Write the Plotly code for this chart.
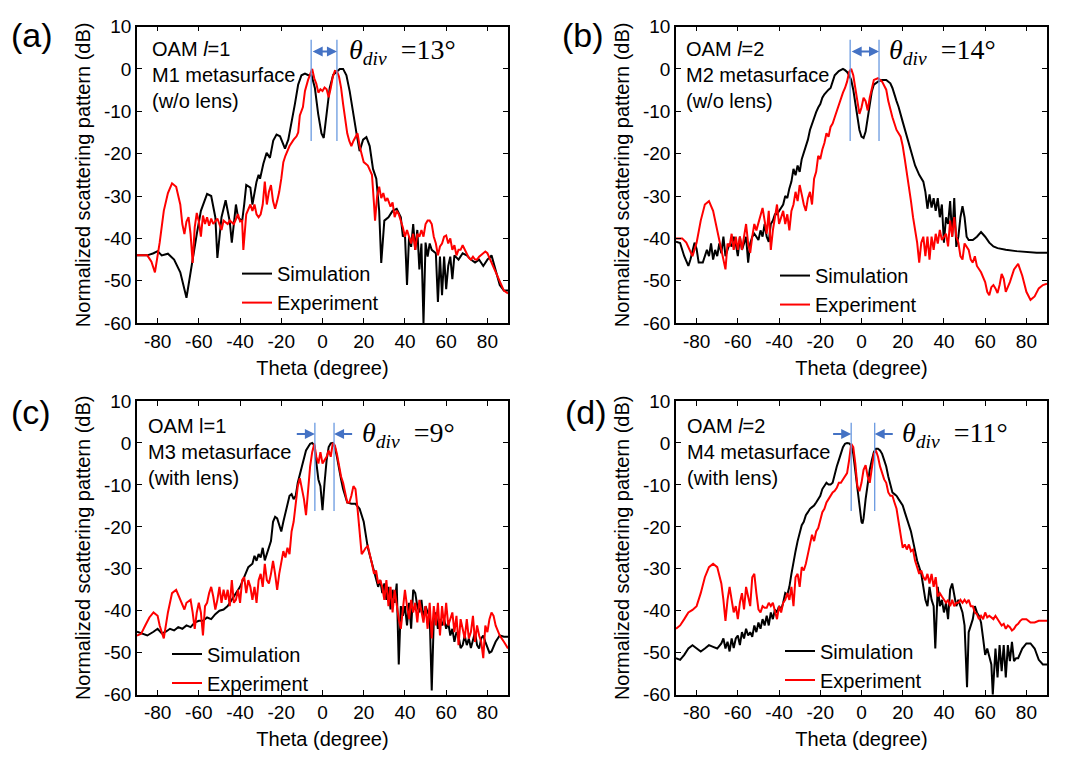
import plotly.graph_objects as go

# ---------------- data (theta in degree, normalized pattern in dB) ----------------
SIM_A = [(-90,-44),(-85,-44),(-82,-43.5),(-80,-43),(-78,-44),(-75,-43.6),(-72,-45),(-69,-48),(-66,-54),(-64,-48),
         (-63,-44),(-61,-39),(-59,-33.5),(-56,-29.5),(-54,-30),(-52,-35),(-51,-44.6),(-49,-35),(-47,-31),(-45,-36),
         (-44,-41),(-42,-32),(-41,-35),(-39,-36),(-38,-32),(-37,-27.4),(-35,-28),(-34,-32),(-32,-26.6),(-31,-25),
         (-30.3,-25.9),(-28.7,-22.4),(-27.1,-19.8),(-25.5,-21),(-23.9,-16.9),(-22.3,-15.5),(-20.6,-15.9),(-19.4,-17.3),
         (-18.2,-18.8),(-16.6,-16.7),(-15,-12.9),(-13.4,-8.3),(-11.8,-3.7),(-10.2,-1.5),(-8.5,-1.1),(-6.9,-1.5),
         (-5.3,-1.5),(-3.7,-4.5),(-2.1,-10.6),(-0.5,-15.2),(0.6,-16.3),(1.9,-11.3),(3.5,-4.5),(5.2,-1.4),(6.8,-0.6),
         (8.4,0),(10,0),(11.6,-1.5),(13.2,-5.3),(14.8,-10.6),(16.5,-15.2),(18,-19.4),(19.7,-16.7),(21.3,-16.1),
         (22.9,-18.2),(24.5,-23.6),(26.1,-25.9),(27.5,-33.5),(28.5,-45.8),(30,-35.8),(32,-35),(34,-33.5),(36,-33),
         (38,-35),(39,-39.6),(40,-39),(41,-51),(42,-39.6),(43,-42),(44,-36.6),(45,-42.7),(46,-38),(47,-47.3),(48,-41.2),
         (49,-60),(50,-41),(51,-44.3),(52,-41.2),(53,-42.7),(55,-43.5),(56,-55),(57,-44.3),(58,-53.4),(59,-44.3),
         (60,-52),(61,-46.5),(62,-44.3),(63,-49.6),(64,-44),(66,-45),(67,-44.3),(68,-43.5),(70,-44),(72,-45),(74,-45.7),
         (76,-45),(78,-46.5),(80,-45),(82,-44),(84,-47.3),(86,-51),(88,-52.3),(90,-52.3)]

EXP_A = [(-90,-44),(-85,-44),(-83,-45.5),(-81.3,-48),(-79,-41),(-77,-33.5),(-75,-29.3),(-73,-27),(-71,-27.8),(-69,-32),
         (-68,-36.6),(-67,-39),(-66,-36),(-65,-35),(-64,-39),(-63,-45.8),(-62,-37.4),(-61,-34),(-60,-36),(-59,-39.6),
         (-58,-34.6),(-57,-36.6),(-56,-35),(-55,-37),(-54,-35.3),(-53,-36.6),(-51,-35.3),(-49,-38),(-48,-35.8),(-46,-36.6),
         (-45,-35.8),(-43,-36.6),(-41,-34.3),(-40,-36),(-39,-35.8),(-38.4,-42.7),(-37,-34.3),(-35,-32),(-34,-33.5),
         (-33,-32),(-32,-34.3),(-31,-35),(-30,-34.3),(-29,-32),(-28,-26.6),(-27,-32),(-26,-29),(-25,-27.4),(-24,-31.2),
         (-23,-33),(-22,-31.2),(-21,-29),(-20,-25.9),(-19,-22),(-18,-20.5),(-16,-18.2),(-14,-16.7),(-12.6,-15.9),
         (-11.8,-15),(-11,-11),(-9.5,-9),(-8.5,-5.2),(-7,-2.6),(-6,-1.2),(-5,0),(-4,-2.2),(-3,-3.5),(-2,-5.6),(-1,-4.8),
         (0,-5.2),(1,-4.4),(2,-4.8),(3,-6.7),(4,-4.5),(5,-1.8),(6,-0.5),(7,-0.6),(8,-1.8),(9,-4.4),(10,-8.3),(11,-12.1),
         (12,-15.2),(13,-17),(14,-18.2),(15,-17),(16,-15.9),(17,-15.2),(18,-18.2),(19,-20.5),(20,-22),(22,-22.8),
         (24,-25),(25,-32),(25.5,-35.8),(26.5,-30),(27.5,-27.8),(28.5,-30.5),(29.5,-29.3),(30.5,-31.2),(31.5,-30.5),
         (33,-32.5),(34,-31.5),(35,-35),(36,-33.5),(37,-34.3),(38,-35.8),(39,-37.4),(40,-39.6),(41,-38),(42,-39.6),
         (43,-41.2),(44,-38.9),(45,-42.7),(46,-38.9),(47,-39.6),(48,-38),(49,-39.6),(50,-36.6),(51,-35.8),(52,-35.8),
         (53,-36.6),(54,-39.6),(55,-41.2),(56,-44),(57,-41.9),(58,-41.2),(59,-39.6),(60,-39.3),(61,-41.2),(62,-40),
         (63,-42.7),(64,-41.6),(65,-44),(66,-42.7),(67,-42.7),(68,-41.6),(69,-42.7),(70,-43.5),(71,-44.6),(72,-45),
         (73,-44.3),(74,-45),(75,-45),(76,-44.3),(77,-43.9),(78,-43.5),(79,-43.1),(80,-43.5),(81,-44.6),(82,-45.8),
         (84,-48),(86,-50.4),(88,-52.3),(90,-53)]

SIM_B = [(-90,-40.8),(-88,-41.1),(-86,-44.2),(-84,-46.5),(-83,-45),(-81,-41),(-80,-42.5),(-79,-45.7),(-77,-45.7),
         (-75,-42.7),(-74,-44.2),(-73,-41.2),(-72,-45),(-71,-42.7),(-70,-44.2),(-69,-41.2),(-68,-43.5),(-67,-39.6),
         (-66,-44.2),(-65,-42.7),(-64,-41.2),(-63,-41.9),(-62,-39.6),(-61,-41.2),(-60,-44.2),(-59,-39.6),(-58,-42.7),
         (-57,-41.2),(-56,-39.6),(-55,-45.7),(-54,-41.2),(-53,-39.6),(-52,-38.9),(-51,-39.6),(-50,-40.4),(-49,-38.1),
         (-48,-39.6),(-47,-36.6),(-46,-39.6),(-45,-40.8),(-44,-36.6),(-43,-35.8),(-42,-34.3),(-41,-34.3),(-40,-33.5),
         (-39,-32.7),(-38,-32),(-37,-30),(-36,-30.5),(-35,-28.2),(-34,-26.6),(-33,-23.6),(-32,-25.1),(-31,-22.8),
         (-30,-24.3),(-29,-21.3),(-28,-19.8),(-27,-18.2),(-26,-16.7),(-25,-14.4),(-24,-12.9),(-23,-11.4),(-22,-10.2),
         (-21,-9.1),(-20,-8.3),(-19,-6.8),(-18,-6),(-16,-4.9),(-15,-4.5),(-14,-3),(-13,-1.5),(-11,-0.5),(-10,-0.2),
         (-9,0),(-8,-0.3),(-7,-0.7),(-6,-1.5),(-5,-2.6),(-4,-4.9),(-3,-8.3),(-2,-11.4),(-1,-14.4),(0,-16),(1,-16.3),
         (2,-14.8),(3,-11.4),(4,-7.6),(5,-5.3),(6,-3.7),(8,-3),(10,-2.6),(12,-2.6),(14,-3.4),(15,-4.5),(17,-7.6),(18,-9),
         (20,-12.5),(22,-16),(24,-19.8),(26,-22.8),(28,-25),(29,-25.9),(30,-26.6),(31,-29),(32,-33),(33,-29.6),(34,-32.7),
         (35,-30.5),(36,-33.5),(37,-30.5),(38,-35),(39,-32),(40,-41),(41,-35),(42,-36.6),(43,-31.2),(44,-39.6),(45,-30.5),
         (46,-42),(47,-39.6),(48,-35),(49,-32.4),(50,-35),(51,-39.6),(52,-40.4),(54,-40.4),(56,-39.6),(58,-38.5),(60,-39.6),
         (62,-41),(64,-41.9),(66,-42.3),(70,-42.7),(75,-43),(80,-43.2),(85,-43.4),(90,-43.4)]

EXP_B = [(-90,-40),(-87,-40),(-85,-41),(-82,-44.2),(-80,-41),(-78,-35.8),(-76,-32),(-74,-31.2),(-72,-33.5),(-70,-38),
         (-68,-42),(-66,-47.3),(-65,-41.2),(-64,-41.9),(-63,-38.9),(-62,-42.7),(-61,-39.6),(-60,-42.7),(-59,-39.6),
         (-58,-42.7),(-57,-39.6),(-56,-36.6),(-55,-41.2),(-54,-43.4),(-53,-39.6),(-52,-36.6),(-51,-38.1),(-50,-36.2),
         (-49,-35),(-48,-32.8),(-47,-35.8),(-46,-38.9),(-45,-33.5),(-44,-42.7),(-43,-38.1),(-42,-35),(-41,-32),(-40,-36.6),
         (-39,-35),(-38,-33.5),(-37,-36.6),(-36,-34.3),(-35,-38.1),(-34,-33.5),(-33,-32),(-32,-29),(-31,-31.2),
         (-30,-27.4),(-29,-29.6),(-28,-32),(-27,-33.5),(-26,-30.5),(-25,-29),(-24,-32),(-23,-25.9),(-22,-24.3),
         (-21,-20.5),(-20,-21.3),(-19,-19),(-18,-17.5),(-17,-15.2),(-16,-16),(-15,-13.7),(-14,-12.9),(-13,-11.4),
         (-12,-9.9),(-11,-8.3),(-10,-6.8),(-9,-5.6),(-8,-4.5),(-7,-3),(-6,-0.7),(-5,0),(-4,-1.5),(-3,-4.5),(-2,-8.3),
         (-1,-10.6),(0,-9.1),(1,-6.8),(2,-7.6),(3,-9.8),(4,-6.8),(5,-4.5),(6,-2.6),(8,-2.2),(10,-3),(12,-4.9),(13,-7.6),
         (15,-11.4),(17,-14.4),(19,-16),(20,-18.2),(21,-21.3),(22,-24.3),(23,-27.4),(24,-31.2),(25,-35),(26,-38),
         (27,-41),(28,-45.7),(29,-41),(30,-39.6),(31,-44.2),(32,-39.6),(33,-45),(34,-39.6),(35,-42.7),(36,-38.9),
         (37,-41.2),(38,-38),(39,-40.4),(40,-39.6),(41,-38.9),(42,-41.9),(43,-35.8),(44,-39.6),(45,-35),(46,-39.6),
         (47,-41),(48,-44.2),(49,-45),(50,-41.2),(51,-42),(52,-42.7),(53,-45),(54,-45.7),(55,-44.2),(56,-46.5),
         (58,-48),(60,-50.3),(61,-52.6),(62,-53.4),(63,-51.5),(64,-51),(65,-51.8),(66,-52.9),(67,-51),(68,-48.4),
         (69,-49.5),(70,-52.6),(72,-50.3),(74,-47.3),(76,-46),(78,-48.8),(80,-52.6),(82,-54.5),(84,-53.7),(86,-51.8),
         (88,-51),(90,-50.7)]

SIM_C = [(-90,-45),(-85,-45.9),(-82,-45),(-80,-44.3),(-78,-45.4),(-76,-45),(-74,-44.3),(-72,-44.7),(-70,-43.9),
         (-68,-44.3),(-66,-43.5),(-64,-43.9),(-62,-42.8),(-60,-42.4),(-58,-42.4),(-56,-41.6),(-54,-42),(-52,-40.8),
         (-50,-40),(-48,-39.7),(-46,-38.9),(-44,-37.4),(-42,-35.8),(-40,-34.3),(-38,-32),(-36,-29.6),(-34,-28.8),
         (-33,-26.9),(-32,-28.1),(-31,-26.5),(-30,-27.3),(-29,-25),(-28,-28),(-27,-26.5),(-25,-23.4),(-24,-18.8),
         (-23,-17.6),(-22,-18),(-21,-19.9),(-20,-21.1),(-19,-18.8),(-18,-16.5),(-17,-14.2),(-16,-12.6),(-15,-12.2),
         (-14,-13.4),(-13,-12.6),(-12,-9.5),(-10,-5.6),(-8,-1.8),(-6,-0.2),(-5,0),(-4,-0.6),(-3,-4.1),(-2,-8.7),
         (-1,-10.3),(0,-16),(1,-9.5),(2,-4.1),(3,-1),(4,-0.1),(5,0),(6,-1),(7,-3.3),(8,-6.4),(9,-8.7),(10,-11),
         (11,-12.6),(12,-14.2),(14,-14.5),(16,-14.5),(18,-15.7),(20,-18.8),(22,-25),(23,-26.9),(24,-28.8),(25,-30.4),
         (26,-31.9),(27,-34.3),(28,-32.7),(29,-35.8),(30,-33.5),(31,-37.4),(32,-34.3),(33,-39.7),(34,-35),(35,-38.1),
         (36,-33.5),(37,-52.8),(38,-38.9),(39,-41.2),(40,-38.9),(41,-43.5),(42,-38.1),(43,-44.3),(44,-35),(45,-35.8),
         (46,-38.9),(47,-40.4),(48,-37.4),(49,-42),(50,-38.9),(51,-40.4),(52,-41.2),(53,-59),(54,-42),(55,-40.4),
         (56,-44.3),(57,-42),(58,-43.5),(59,-42),(60,-44.3),(61,-42.8),(62,-45.9),(63,-44.3),(64,-47.4),(65,-45.1),
         (66,-45.9),(67,-48.9),(68,-48.2),(69,-45.9),(70,-48.2),(71,-46.6),(72,-48.9),(73,-46.6),(74,-45.1),(75,-48.2),
         (76,-49),(77,-46.6),(78,-45.9),(79,-47.4),(80,-48.9),(81,-50),(82,-49.7),(84,-47.4),(86,-45.9),(88,-46.2),
         (90,-46.2)]

EXP_C = [(-90,-45.9),(-88,-45.5),(-86,-43.5),(-84,-41.6),(-82,-40.4),(-80,-41.2),(-79,-43.5),(-77,-46.6),(-75,-40.4),
         (-73,-35.8),(-71,-35),(-69,-37.4),(-67,-39.7),(-66,-38.1),(-64,-37.4),(-63,-40.4),(-62,-44.3),(-61,-40.4),
         (-60,-38.1),(-59,-40.4),(-58,-45.9),(-57,-38.9),(-56,-38.1),(-55,-35.8),(-54,-34.3),(-53,-36.6),(-52,-39.7),
         (-51,-37.4),(-50,-34.3),(-49,-38.1),(-48,-35),(-47,-37.4),(-46,-35),(-45,-38.9),(-44,-32.7),(-43,-38.1),
         (-42,-37.4),(-41,-35),(-40,-38.1),(-39,-32.7),(-38,-32),(-37,-35.8),(-36,-32.7),(-35,-34.3),(-34,-37.4),
         (-33,-34.3),(-32,-38.1),(-31,-32.7),(-30,-31.2),(-29,-34.3),(-28,-28.8),(-27,-32.7),(-26,-33.5),(-25,-31.2),
         (-24,-28.1),(-23,-31.2),(-22,-35),(-21,-31.2),(-20,-28.1),(-19,-25.8),(-18,-27.3),(-17,-25),(-16,-26.5),
         (-15,-21.1),(-14,-18.8),(-13,-14.2),(-12,-10.3),(-11,-8.4),(-10,-11),(-9,-13.4),(-8,-17.2),(-7,-11),(-6,-5.6),
         (-5,-2.2),(-4,-0.2),(-3,-3.3),(-2,-4.9),(-1,-2.2),(0,-4.9),(1,-4.1),(2,-3.3),(3,-1.8),(4,-3.3),(5,0),(6,-0.6),
         (7,-2.6),(8,-5.6),(9,-8),(10,-9.5),(11,-11.8),(12,-14.2),(13,-14.2),(14,-12.6),(15,-10.3),(16,-11),(17,-15.7),
         (18,-20.3),(19,-26.5),(20,-25.8),(21,-25),(22,-24.6),(23,-26.5),(24,-28.8),(25,-31.2),(26,-30.4),(27,-33.5),
         (28,-32.7),(29,-34.3),(30,-37.4),(31,-32.7),(32,-38.9),(33,-34.3),(34,-40.4),(35,-35),(36,-38.9),(37,-42),
         (38,-44.3),(39,-38.9),(40,-35),(41,-38.9),(42,-42),(43,-37.4),(44,-40.4),(45,-38.1),(46,-42.8),(47,-37.4),
         (48,-40.4),(49,-42.8),(50,-38.9),(51,-44.3),(52,-38.1),(53,-46.6),(54,-38.9),(55,-43.5),(56,-38.1),(57,-45.9),
         (58,-38.9),(59,-43.5),(60,-38.1),(61,-43.5),(62,-42),(63,-40.4),(64,-45.1),(65,-41.2),(66,-48.2),(67,-42),
         (68,-44.3),(69,-46.6),(70,-42),(71,-46.6),(72,-45.1),(73,-41.2),(74,-47.4),(75,-43.5),(76,-45.9),(77,-47.4),
         (78,-51.3),(79,-43.5),(80,-45.1),(81,-42),(82,-40.4),(83,-41.2),(84,-43.5),(86,-45.9),(88,-47.4),(90,-49)]

SIM_D = [(-90,-51.3),(-88,-51.7),(-86,-50.5),(-84,-49),(-82,-48.2),(-80,-49),(-78,-49.7),(-76,-49),(-74,-48.2),
         (-72,-48.6),(-70,-49),(-68,-47.8),(-67,-46.6),(-66,-49),(-65,-47.4),(-64,-49.7),(-63,-46.6),(-62,-48.9),
         (-61,-46.6),(-60,-45.9),(-59,-48.2),(-58,-45.1),(-57,-46.6),(-56,-44.3),(-55,-45.9),(-54,-45.1),(-53,-46.2),
         (-52,-43.5),(-51,-45.1),(-50,-42.8),(-49,-44.3),(-48,-42),(-47,-43.5),(-46,-41.2),(-45,-43.5),(-44,-40.4),
         (-43,-42),(-42,-39.7),(-41,-40.4),(-40,-38.9),(-39,-39.7),(-38,-38.1),(-37,-35.8),(-36,-36.2),(-35,-34.3),
         (-34,-31.2),(-33,-28.1),(-32,-25.8),(-31,-23.4),(-30,-21.1),(-29,-19.6),(-28,-18.8),(-27,-17.2),(-26,-16.5),
         (-25,-15.7),(-24,-15.3),(-23,-14.9),(-22,-14.2),(-21,-13.4),(-20,-12.6),(-19,-11),(-18,-10.3),(-17,-9.5),
         (-16,-9.9),(-15,-9.9),(-14,-9.5),(-13,-7.2),(-12,-5.6),(-11,-4.1),(-10,-2.6),(-9,-1),(-8,-0.2),(-7,0),
         (-6,-0.1),(-5,-0.6),(-4,-2.6),(-3,-6.4),(-2,-10.3),(-1,-14.2),(0,-18.8),(0.5,-19.2),(1,-18),(2,-13.4),
         (3,-9.5),(4,-6.4),(5,-4.1),(6,-2.2),(7,-1.4),(8,-1.4),(9,-1.8),(10,-2.6),(11,-4.1),(12,-5.6),(13,-8),
         (14,-10.3),(15,-11.8),(16,-12.2),(17,-12.6),(18,-13.4),(19,-14.2),(20,-14.9),(21,-16.5),(22,-18),(23,-19.6),
         (24,-21.1),(25,-23.4),(26,-25.8),(27,-28.1),(28,-29.6),(29,-31.2),(30,-34.3),(31,-37.4),(32,-38.9),(33,-34.3),
         (34,-37.4),(35,-38.9),(35.8,-49),(37,-34.3),(38,-38.9),(39,-37.4),(40,-40.4),(41,-38.1),(42,-42),(43,-35),
         (44,-33.5),(45,-35.8),(46,-38.9),(47,-37.4),(48,-38.9),(49,-40.4),(50,-43.5),(51.2,-58.2),(52,-45.1),
         (53,-43.5),(54,-42),(55,-38.9),(56,-40.4),(57,-41.2),(58,-42.8),(59,-46.6),(60,-50.5),(61,-49),(62,-51.3),
         (63,-52.8),(63.7,-60),(65,-49),(66,-55.9),(67,-48.2),(68,-54.4),(69,-48.2),(70,-55.9),(71,-48.2),(72,-52),
         (73,-47.4),(74,-52),(75,-51.3),(76,-51.3),(78,-49),(80,-47.8),(82,-47.8),(84,-49),(86,-51.7),(88,-52.8),
         (90,-52.8)]

EXP_D = [(-90,-44.3),(-88,-43.5),(-86,-42),(-84,-40.4),(-82,-39.8),(-80,-38.9),(-78,-35.8),(-76,-32),(-74,-29.6),
         (-72,-28.8),(-70,-29.6),(-68,-33.5),(-67,-37.4),(-66,-42.4),(-65,-37.4),(-64,-34.3),(-63,-37.4),(-62,-40.4),
         (-61,-38.9),(-60,-42),(-59,-38.1),(-58,-35.8),(-57,-39.7),(-56,-34.3),(-55,-36.6),(-54,-38.9),(-53,-32),
         (-52,-31.2),(-51,-35.8),(-50,-39.7),(-49,-40.4),(-48,-38.9),(-47,-39.3),(-46,-39.3),(-45,-38.1),(-44,-38.9),
         (-43,-38.1),(-42,-40.4),(-41,-42),(-40,-38.9),(-39,-40.4),(-38,-38.1),(-37,-37.4),(-36,-35.8),(-35,-37.4),
         (-34,-34.3),(-33,-38.9),(-32,-32),(-31,-31.2),(-30,-34.3),(-29,-29.6),(-28,-30.4),(-27,-28.8),(-26,-26.5),
         (-25,-24.2),(-24,-21.9),(-23,-23.4),(-22,-21.1),(-21,-20.3),(-20,-18),(-19,-16.5),(-18,-15.7),(-17,-14.2),
         (-16,-13.4),(-15,-12.6),(-14,-11.8),(-13,-11.4),(-12,-10.7),(-11,-9.5),(-10,-9.5),(-9,-8.7),(-8,-8),(-7,-7.2),
         (-6,-4.1),(-5,-0.2),(-4,-1),(-3,-4.9),(-2,-10.3),(-1,-11.5),(0,-9.5),(1,-6.4),(2,-5.3),(3,-8),(4,-9.5),
         (5,-6.4),(6,-2.6),(7,-1.8),(8,-3.3),(9,-5.6),(10,-7.2),(11,-8.7),(12,-9.5),(13,-11.8),(14,-12.6),(15,-12.6),
         (16,-14.2),(17,-15.7),(18,-18.8),(19,-21.9),(20,-25),(21,-24.2),(22,-25.4),(23,-24.2),(24,-25.8),(25,-25.4),
         (26,-28.1),(27,-29.6),(28,-31.2),(29,-30.4),(30,-32),(31,-32.7),(32,-31.2),(33,-33.5),(34,-31.2),(35,-34.3),
         (36,-32),(37,-36.6),(38,-35.8),(39,-36.6),(40,-37.4),(41,-38.1),(42,-37.4),(43,-38.9),(44,-37.4),(45,-38.9),
         (46,-38.1),(47,-38.1),(48,-37.4),(49,-38.1),(50,-37.4),(51,-38.1),(52,-37.4),(53,-38.9),(54,-38.9),(55,-40.4),
         (56,-40.8),(57,-42),(58,-41.2),(59,-42),(60,-40.4),(61,-41.6),(62,-41.2),(63,-41.6),(64,-42),(65,-41.2),
         (66,-42),(67,-42.8),(68,-43.5),(69,-43.1),(70,-44.3),(71,-43.5),(72,-43.9),(73,-44.7),(74,-44.3),(75,-43.5),
         (76,-43.1),(77,-42.4),(78,-42),(80,-42),(82,-42.8),(84,-42.8),(86,-42.4),(88,-42.4),(90,-42.4)]

# panel texts
PANEL_LABELS = ["(a)", "(b)", "(c)", "(d)"]
INFO_TEXTS = ["OAM <i>l</i>=1<br>M1 metasurface<br>(w/o lens)",
              "OAM <i>l</i>=2<br>M2 metasurface<br>(w/o lens)",
              "OAM l=1<br>M3 metasurface<br>(with lens)",
              "OAM <i>l</i>=2<br>M4 metasurface<br>(with lens)"]
DIV_ANGLES = [13, 14, 9, 11]
# positions of the two blue marker lines (degree) for each panel
DIV_LINES = [(-5.5, 7.0), (-5.5, 8.5), (-3.7, 5.6), (-5.0, 6.4)]
X_TICKS = [-80, -60, -40, -20, 0, 20, 40, 60, 80]
Y_TICKS = [-60, -50, -40, -30, -20, -10, 0, 10]
X_TICK_TEXT = [str(v) for v in X_TICKS]
Y_TICK_TEXT = [str(v) for v in Y_TICKS]

SANS = "Liberation Sans, Arial, sans-serif"
SERIF = "Liberation Serif, Times New Roman, serif"

W, H = 1068, 765
# axes rectangles in pixels (left, right, top, bottom)
RECTS = [(137, 508, 17, 322), (676, 1047, 17, 322), (137, 508, 402, 704), (676, 1047, 402, 704)]

fig = go.Figure()
curves = [(SIM_A, EXP_A), (SIM_B, EXP_B), (SIM_C, EXP_C), (SIM_D, EXP_D)]
legend_names = ["legend", "legend2", "legend3", "legend4"]
for i, (sim, exp) in enumerate(curves):
    xa = "x" if i == 0 else f"x{i+1}"
    ya = "y" if i == 0 else f"y{i+1}"
    for data, name, col in [(sim, "Simulation", "#000000"), (exp, "Experiment", "#FF0000")]:
        th, db = zip(*data)
        fig.add_trace(go.Scatter(x=list(th), y=list(db), mode="lines", name=name,
                                 line=dict(color=col, width=2), xaxis=xa, yaxis=ya,
                                 legend=legend_names[i], showlegend=True))

axis_common = dict(showline=True, linecolor="black", linewidth=1.5, mirror="ticks", ticks="inside",
                   ticklen=5, tickwidth=1.2, tickcolor="black", showgrid=False, zeroline=False,
                   tickfont=dict(family=SANS, size=19, color="black"))

layout = dict(width=W, height=H, margin=dict(l=0, r=0, t=0, b=0), plot_bgcolor="white",
              paper_bgcolor="white", font=dict(family=SANS, color="black"))
for i, (l, r, t, b) in enumerate(RECTS):
    sfx = "" if i == 0 else str(i + 1)
    layout["xaxis" + sfx] = dict(axis_common, domain=[l / W, r / W], range=[-90, 90], tickvals=X_TICKS,
                                 ticktext=X_TICK_TEXT, anchor="y" + sfx,
                                 title=dict(text="Theta (degree)", font=dict(family=SANS, size=20), standoff=10))
    layout["yaxis" + sfx] = dict(axis_common, domain=[1 - b / H, 1 - t / H], range=[-60, 10], tickvals=Y_TICKS,
                                 ticktext=Y_TICK_TEXT, anchor="x" + sfx,
                                 title=dict(text="Normalized scattering pattern (dB)", font=dict(family=SANS, size=20),
                                            standoff=8))

LEG_POS = [(237, 251), (775, 253), (167, 642), (780, 639)]
for i, (lx, ly) in enumerate(LEG_POS):
    layout[legend_names[i]] = dict(x=lx / W, y=1 - ly / H, xanchor="left", yanchor="top",
                                   bgcolor="rgba(0,0,0,0)", borderwidth=0, tracegroupgap=0,
                                   font=dict(family=SANS, size=20, color="black"))
fig.update_layout(**layout)

LABEL_POS = [(9, 26), (560, 26), (9, 413), (563, 413)]
INFO_POS = [(-83.7, 7.7), (-86.1, 7.7), (-85.6, 7.1), (-85.6, 7.1)]
ARROW_Y = [4.1, 4.1, 2.1, 2.1]
TEXT_X = [12.1, 12.6, 18.3, 18.6]
annotations = []
shapes = []
for i in range(4):
    sfx = "" if i == 0 else str(i + 1)
    xr, yr = "x" + sfx, "y" + sfx
    lx, ly = LABEL_POS[i]
    annotations.append(dict(text=PANEL_LABELS[i], xref="paper", yref="paper", x=lx / W, y=1 - ly / H,
                            xanchor="left", yanchor="middle", showarrow=False,
                            font=dict(family=SANS, size=34, color="black")))
    ix, iy = INFO_POS[i]
    annotations.append(dict(text=INFO_TEXTS[i], xref=xr, yref=yr, x=ix, y=iy, xanchor="left", yanchor="top",
                            align="left", showarrow=False, font=dict(family=SANS, size=20, color="black")))
    x1, x2 = DIV_LINES[i]
    top = 6.9 if i < 2 else 4.8
    bot = -17.0 if i < 2 else -16.2
    for xv in (x1, x2):
        shapes.append(dict(type="line", xref=xr, yref=yr, x0=xv, x1=xv, y0=bot, y1=top,
                           line=dict(color="#6A9AE0", width=1.3)))
    ay = ARROW_Y[i]
    if i < 2:
        annotations.append(dict(text="", xref=xr, yref=yr, axref=xr, ayref=yr, x=x2, y=ay, ax=x1, ay=ay,
                                showarrow=True, arrowhead=2, startarrowhead=2, arrowside="end+start",
                                arrowsize=1, arrowwidth=2, arrowcolor="#4472C4", standoff=0, startstandoff=0))
    else:
        span = 9.5
        annotations.append(dict(text="", xref=xr, yref=yr, axref=xr, ayref=yr, x=x1, y=ay, ax=x1 - span, ay=ay,
                                showarrow=True, arrowhead=2, arrowsize=1, arrowwidth=2, arrowcolor="#4472C4",
                                standoff=0))
        annotations.append(dict(text="", xref=xr, yref=yr, axref=xr, ayref=yr, x=x2, y=ay, ax=x2 + span, ay=ay,
                                showarrow=True, arrowhead=2, arrowsize=1, arrowwidth=2, arrowcolor="#4472C4",
                                standoff=0))
    annotations.append(dict(text=f"<i>θ<sub>div</sub></i>&nbsp; ={DIV_ANGLES[i]}°", xref=xr, yref=yr,
                            x=TEXT_X[i], y=ay, xanchor="left", yanchor="middle", showarrow=False,
                            font=dict(family=SERIF, size=28, color="black")))

fig.update_layout(annotations=annotations, shapes=shapes)
fig.write_html("out.html")
